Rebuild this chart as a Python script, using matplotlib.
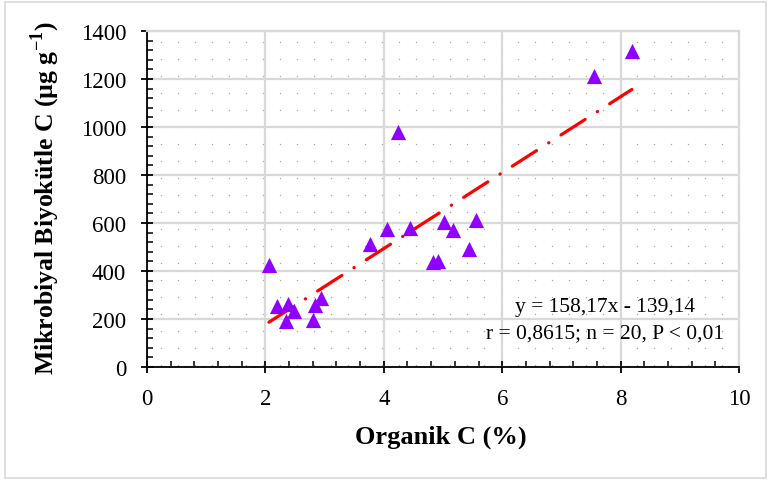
import matplotlib.pyplot as plt
import numpy as np
from matplotlib.patches import Rectangle
from matplotlib.ticker import MultipleLocator

# organik C (%) ve mikrobiyal biyokütle C (ug/g) ölçümleri
organik_c = [2.06, 2.20, 2.35, 2.39, 2.49, 2.81, 2.84, 2.94, 3.76, 4.05,
             4.24, 4.44, 4.83, 4.92, 5.01, 5.17, 5.44, 5.55, 7.55, 8.19]
biyokutle_c = [425, 255, 192, 262, 235, 197, 258, 286, 512, 575,
               980, 578, 436, 443, 605, 572, 492, 614, 1214, 1317]

# regresyon katsayilari
egim = 158.17
kesisim = -139.14
denklem = 'y = 158,17x - 139,14'
istatistik = 'r = 0,8615; n = 20, P < 0,01'

plt.rcParams['font.family'] = ['Liberation Serif', 'DejaVu Serif']
plt.rcParams['mathtext.fontset'] = 'custom'
plt.rcParams['mathtext.rm'] = 'Liberation Serif'
plt.rcParams['mathtext.bf'] = 'Liberation Serif:bold'

fig = plt.figure(figsize=(7.68, 4.81), dpi=100)
ax = fig.add_axes([147 / 768, 113 / 481, 592 / 768, 336 / 481])

# grafik alanini cevreleyen gri cerceve
fig.patches.append(Rectangle((5 / 768, 2 / 481), 761 / 768, 476 / 481,
                             transform=fig.transFigure, fill=False,
                             edgecolor='#d9d9d9', linewidth=1.2))

# arka plan noktali desen
w_px, h_px = 592, 336
satirlar = np.arange(2, h_px, 8.5)
for i, yy in enumerate(satirlar):
    bas = 5 if i % 2 == 0 else 13.5
    xx = np.arange(bas, w_px, 17)
    ax.scatter(xx / w_px, np.full_like(xx, 1 - yy / h_px),
               s=2.2 if i % 2 == 0 else 1.0, color='#a6a6a6', linewidths=0,
               transform=ax.transAxes, zorder=0.5, clip_on=True)

ax.set_xlim(0, 10)
ax.set_ylim(0, 1400)
ax.xaxis.set_major_locator(MultipleLocator(2))
ax.xaxis.set_minor_locator(MultipleLocator(0.4))
ax.yaxis.set_major_locator(MultipleLocator(200))
ax.yaxis.set_minor_locator(MultipleLocator(40))
ax.grid(True, which='major', color='#d9d9d9', linewidth=1.6, zorder=0.6)
ax.set_axisbelow(True)

for s in ['top', 'right']:
    ax.spines[s].set_color('#d9d9d9')
    ax.spines[s].set_linewidth(1.6)
for s in ['left', 'bottom']:
    ax.spines[s].set_linewidth(1.3)

ax.tick_params(which='major', direction='inout', length=8, width=1.3,
               labelsize=16.5)
ax.tick_params(axis='y', which='major', pad=11)
ax.tick_params(axis='x', which='major', pad=11)
ax.tick_params(which='minor', direction='in', length=4, width=1.1)

# regresyon dogrusu
xr = np.array([min(organik_c), max(organik_c)])
ax.plot(xr, egim * xr + kesisim, color='#ff0000', linewidth=2.3,
        linestyle=(0, (9, 4.5, 0.1, 4.5)), dash_capstyle='round',
        solid_capstyle='round', zorder=3)

ax.scatter(organik_c, biyokutle_c, marker='^', s=120, color='#8f00ff',
           linewidths=0, zorder=4)

ax.text(0.773, 0.180, denklem, transform=ax.transAxes, ha='center',
        va='center', fontsize=15.5)
ax.text(0.773, 0.103, istatistik, transform=ax.transAxes, ha='center',
        va='center', fontsize=15.5)

ax.set_xlabel('Organik C (%)', fontsize=19, fontweight='bold', va='center')
ax.xaxis.set_label_coords(0.497, -0.205)
ax.set_ylabel('Mikrobiyal Biyokütle C (µg g$^{\\mathbf{-1}}$)', fontsize=18.5,
              fontweight='bold', va='center')
ax.yaxis.set_label_coords(-0.1726, 0.506)

fig.savefig('out.png', dpi=100)
